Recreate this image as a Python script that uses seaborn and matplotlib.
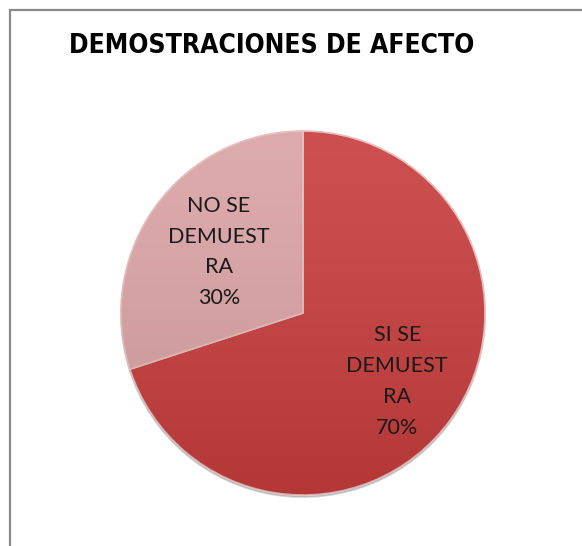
import matplotlib
matplotlib.use("Agg")
import matplotlib.pyplot as plt
import seaborn as sns
import numpy as np
from matplotlib.patches import Rectangle

# Data
categories = ["SI SE\nDEMUEST\nRA", "NO SE\nDEMUEST\nRA"]
values = [70, 30]
colors = ["#C63D3C", "#D9A2A2"]
title = "DEMOSTRACIONES DE AFECTO"

sns.set_theme(style="white")
plt.rcParams["font.family"] = ["Lato", "DejaVu Sans"]

W, H = 582, 546
fig = plt.figure(figsize=(W / 100, H / 100), dpi=100)
ax = fig.add_axes([0, 0, 1, 1])

cx, cy, R = 303, H - 313, 182
labels = [f"{c}\n{v}%" for c, v in zip(categories, values)]
wedges, texts = ax.pie(
    values,
    labels=labels,
    colors=colors,
    startangle=90,
    counterclock=False,
    center=(cx, cy),
    radius=R,
    labeldistance=0.6,
    explode=[0, 0.012],
    frame=True,
    shadow=dict(ox=0, oy=-1.5, alpha=0.25, color="#555555"),
    wedgeprops=dict(edgecolor="#e6bcbc", linewidth=1.2),
    textprops=dict(fontsize=15.5, color="#1a1a1a", ha="center", va="center",
                   linespacing=1.68),
)
ax.set_xlim(0, W)
ax.set_ylim(0, H)
ax.set_aspect("equal")
ax.axis("off")

# per-label radial fine-tuning
for w, t, d in zip(wedges, texts, [0.64, 0.57]):
    th = np.deg2rad((w.theta1 + w.theta2) / 2)
    x0, y0 = w.center
    t.set_position((x0 + d * w.r * np.cos(th), y0 + d * w.r * np.sin(th)))
    t.set_horizontalalignment("center")
    t.set_verticalalignment("center")

# subtle vertical shading over the pie
grad = np.linspace(1, 0, 256).reshape(-1, 1)
for w in wedges:
    im = ax.imshow(grad, extent=(cx - R - 5, cx + R + 5, cy - R - 5, cy + R + 5),
                   cmap="Greys_r", alpha=0.10, aspect="auto", zorder=w.get_zorder() + 0.1)
    im.set_clip_path(w)
ax.set_xlim(0, W)
ax.set_ylim(0, H)
for t in texts:
    t.set_zorder(5)

# Title
fig.text(272 / W, 1 - 46 / H, title, ha="center", va="center",
         fontsize=19, fontweight="bold", stretch="condensed",
         family=["DejaVu Sans"], color="black")

# Chart area frame (left and top edges visible)
fig.patches.append(Rectangle((10 / W, -0.1), 1.2, 1 - 10 / H + 0.1,
                             transform=fig.transFigure, fill=False,
                             edgecolor="#8a8a8a", linewidth=1.6))

fig.savefig("out.png", dpi=100)
